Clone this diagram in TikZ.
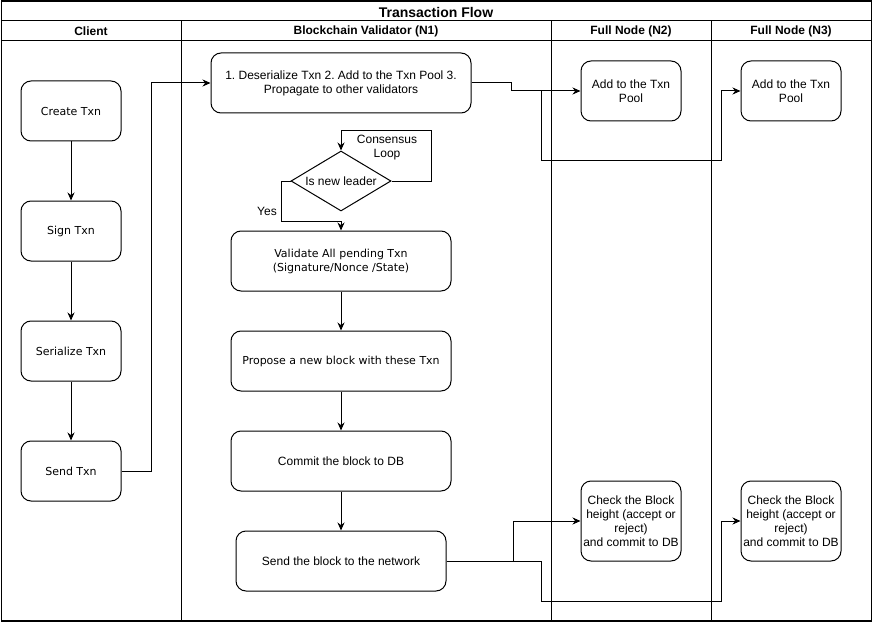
\documentclass[tikz,border=0pt]{standalone}
\usepackage{fontspec}
\setmainfont{Liberation Sans}
\newfontfamily\dvs{DejaVu Sans}
\usetikzlibrary{shapes.geometric,arrows.meta}
\frenchspacing
\tikzset{
  box/.style={draw, line width=1pt, rounded corners=10pt, align=center, inner sep=1pt,
    font=\fontsize{12}{14}\selectfont},
  vbox/.style={box, font=\dvs\fontsize{11}{14}\selectfont},
  conn/.style={line width=1pt},
  arr/.style={conn, -{Stealth[length=8pt,width=7pt]}},
  hdr/.style={font=\bfseries\fontsize{12}{14}\selectfont},
}
\begin{document}
\begin{tikzpicture}[x=1pt,y=-1pt]
\useasboundingbox (0,0) rectangle (873,623);
% frame and lanes
\draw[line width=1.2pt] (1.5,1) rectangle (871.5,621);
\draw[line width=1pt] (1.5,21) -- (871.5,21);
\draw[line width=1pt] (1.5,41) -- (871.5,41);
\draw[line width=1pt] (181,21) -- (181,621);
\draw[line width=1pt] (551,21) -- (551,621);
\draw[line width=1pt] (711,21) -- (711,621);
\node[font=\bfseries\fontsize{14}{16}\selectfont] (title) at (436,12) {Transaction Flow};
\node[hdr] (h1) at (91,31) {Client};
\node[hdr] (h2) at (366,31) {Blockchain Validator (N1)};
\node[hdr] (h3) at (631,31) {Full Node (N2)};
\node[hdr] (h4) at (791,31) {Full Node (N3)};
% client
\node[vbox, minimum width=100pt, minimum height=60pt] (create) at (71,111) {Create Txn};
\node[vbox, minimum width=100pt, minimum height=60pt] (sign) at (71,231) {Sign Txn};
\node[vbox, minimum width=100pt, minimum height=60pt] (ser) at (71,351) {Serialize Txn};
\node[vbox, minimum width=100pt, minimum height=60pt] (send) at (71,471) {Send Txn};
% validator
\node[box, minimum width=260pt, minimum height=60pt] (deser) at (341,83) {1. Deserialize Txn 2. Add to the Txn Pool 3.\\Propagate to other validators};
\node[draw, line width=1pt, diamond, aspect=1.6667, minimum width=100pt, minimum height=60pt, inner sep=0pt, font=\fontsize{12}{14}\selectfont] (leader) at (341,181) {Is new leader};
\node[font=\fontsize{12}{14}\selectfont, align=center] (loop) at (387,148) {Consensus\\Loop};
\node[font=\fontsize{12}{14}\selectfont] (yes) at (267,211) {Yes};
\node[vbox, minimum width=220pt, minimum height=60pt] (valid) at (341,261) {Validate All pending Txn\\(Signature/Nonce /State)};
\node[vbox, minimum width=220pt, minimum height=60pt] (prop) at (341,361) {Propose a new block with these Txn};
\node[box, minimum width=220pt, minimum height=60pt] (commit) at (341,461) {Commit the block to DB};
\node[box, minimum width=210pt, minimum height=60pt] (sendb) at (341,561) {Send the block to the network};
% full nodes
\node[box, minimum width=100pt, minimum height=60pt] (add2) at (631,91) {Add to the Txn\\Pool};
\node[box, minimum width=100pt, minimum height=60pt] (add3) at (791,91) {Add to the Txn\\Pool};
\node[box, minimum width=100pt, minimum height=80pt] (chk2) at (631,521) {Check the Block\\height (accept or\\reject)\\and commit to DB};
\node[box, minimum width=100pt, minimum height=80pt] (chk3) at (791,521) {Check the Block\\height (accept or\\reject)\\and commit to DB};
% connectors
\draw[arr] (create) -- (sign);
\draw[arr] (sign) -- (ser);
\draw[arr] (ser) -- (send);
\draw[arr] (send.east) -- (151,471) -- (151,83) -- (deser.west);
\draw[arr] (leader.east) -- (431,181) -- (431,131) -- (341,131) -- (leader.north);
\draw[arr] (leader.west) -- (281,181) -- (281,221) -- (341,221) -- (valid.north);
\draw[arr] (valid) -- (prop);
\draw[arr] (prop) -- (commit);
\draw[arr] (commit) -- (sendb);
\draw[arr] (deser.east) -- (511,83) -- (511,91) -- (add2.west);
\draw[arr] (deser.east) -- (511,83) -- (511,91) -- (541,91) -- (541,161) -- (721,161) -- (721,91) -- (add3.west);
\draw[arr] (sendb.east) -- (513,561) -- (513,521) -- (chk2.west);
\draw[arr] (sendb.east) -- (541,561) -- (541,601) -- (721,601) -- (721,521) -- (chk3.west);
\end{tikzpicture}
\end{document}
